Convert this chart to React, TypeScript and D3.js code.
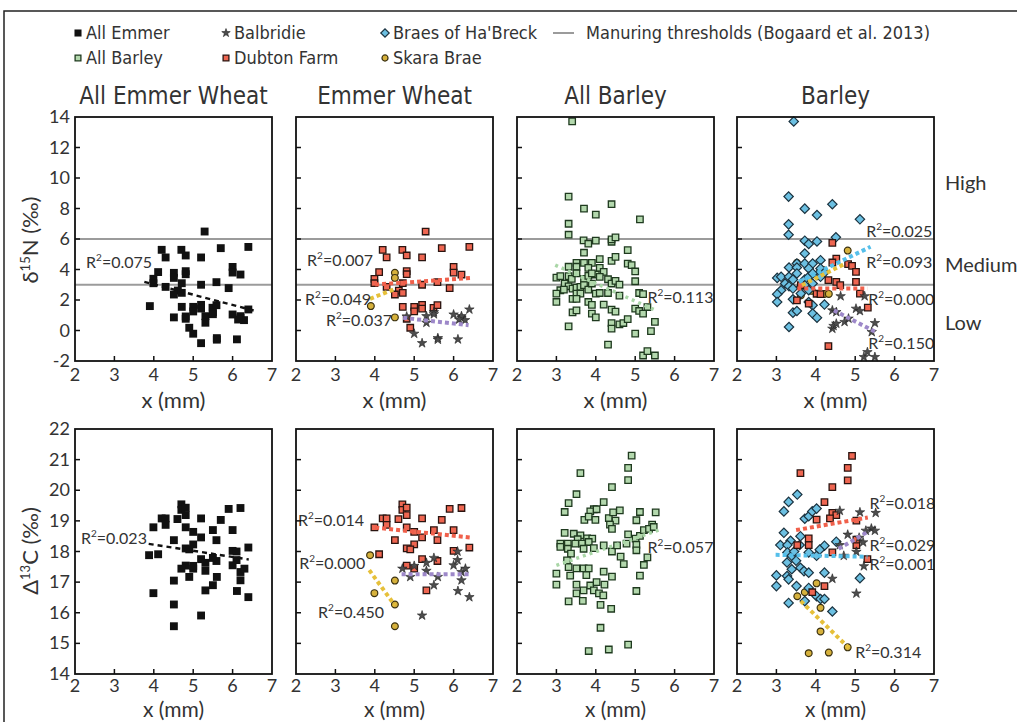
import React from 'react'
import * as d3 from 'd3'

// axis ticks and thresholds
const xTicks = [2, 3, 4, 5, 6, 7]
const nTicks = [-2, 0, 2, 4, 6, 8, 10, 12, 14]
const cTicks = [14, 15, 16, 17, 18, 19, 20, 21, 22]
const thresholds = [6, 3]
const panelTitles = ['All Emmer Wheat', 'Emmer Wheat', 'All Barley', 'Barley']
const levelNames = ['High', 'Medium', 'Low']
const levelValues = [9.7, 4.3, 0.5]

// ---- emmer, d15N ----
const emmerDubtonN = [
  [5.29, 6.49], [4.2, 5.29], [4.3, 4.79], [4.7, 5.29], [4.81, 4.92], [5.2, 4.79], [5.7, 5.4], [6.4, 5.48],
  [4.11, 3.83], [3.99, 3.39], [3.99, 3.1], [4.3, 2.86], [4.81, 3.89], [4.81, 3.69], [4.71, 3.1], [5.2, 3.0],
  [5.59, 3.17], [5.9, 2.78], [6.0, 4.17], [6.0, 3.8], [6.2, 3.67], [4.61, 2.62], [4.51, 2.36], [4.71, 2.47],
  [4.71, 1.55], [5.0, 1.55], [5.0, 1.25], [5.2, 1.68], [5.2, 1.44], [5.49, 1.49], [5.59, 1.66], [4.81, 0.77], [4.9, 0.18],
]
const emmerSkaraN = [[4.51, 3.78], [4.51, 3.45], [3.9, 1.6], [4.51, 0.86]]
const emmerBalbridieN = [
  [4.81, 0.92], [5.0, -0.21], [5.2, -0.83], [5.31, 0.94], [5.31, 0.51], [5.5, 1.2], [5.5, 1.07], [5.6, -0.5],
  [5.6, -0.6], [6.0, 1.05], [6.11, -0.58], [6.2, 0.83], [6.2, 0.94], [6.29, 0.68], [6.4, 1.38], [6.14, 0.72],
]
const allEmmerN = [...emmerDubtonN, ...emmerSkaraN, ...emmerBalbridieN]

// ---- emmer, D13C ----
const emmerDubtonC = [
  [4.7, 19.54], [4.7, 19.36], [4.81, 19.43], [4.81, 19.19], [4.2, 19.08], [4.3, 19.08], [4.3, 18.87], [4.6, 19.06],
  [3.99, 18.79], [4.81, 18.79], [5.2, 19.08], [5.9, 19.39], [6.2, 19.42], [5.7, 19.03], [5.5, 18.7], [5.0, 18.64],
  [5.2, 18.46], [6.0, 18.7], [4.51, 18.37], [5.59, 18.37], [5.0, 18.23], [4.81, 18.1], [4.9, 18.07], [4.11, 17.91],
  [5.2, 17.75], [5.59, 17.69], [6.0, 18.02], [6.4, 18.13], [4.81, 17.54], [5.0, 17.44], [5.31, 16.73],
]
const emmerSkaraC = [[3.88, 17.88], [3.99, 16.64], [4.51, 17.05], [4.51, 16.27], [4.51, 15.56]]
const emmerBalbridieC = [
  [4.7, 17.44], [4.9, 17.17], [5.0, 17.53], [5.31, 17.63], [5.31, 17.37], [5.5, 17.79], [5.5, 16.9], [5.6, 17.17],
  [6.0, 17.55], [6.1, 17.72], [6.11, 16.71], [6.2, 17.06], [6.2, 17.33], [6.3, 17.44], [6.4, 16.51], [5.2, 15.91], [6.1, 18.0],
]
const allEmmerC = [...emmerDubtonC, ...emmerSkaraC, ...emmerBalbridieC]

// ---- all barley ----
const allBarleyN = [
  [3.4, 13.71], [3.31, 8.78], [3.7, 7.99], [4.4, 8.28], [4.0, 7.6], [5.12, 7.29], [3.31, 7.0], [3.31, 6.28],
  [3.69, 5.91], [3.81, 5.69], [4.0, 5.89], [4.4, 5.82], [4.4, 5.97], [4.5, 6.11], [3.7, 5.1], [4.81, 5.27],
  [3.51, 4.44], [3.7, 4.44], [3.9, 4.44], [4.1, 4.68], [4.4, 4.57], [4.5, 4.83], [4.81, 4.39], [4.91, 4.29],
  [5.0, 3.87], [5.0, 3.23], [3.31, 4.18], [3.51, 4.18], [3.81, 4.11], [4.1, 4.11], [4.2, 3.85], [4.0, 3.67],
  [3.0, 3.47], [3.1, 3.56], [3.31, 3.56], [3.39, 3.39], [3.51, 3.74], [3.7, 3.39], [3.81, 3.58], [3.9, 3.74],
  [4.1, 3.52], [4.31, 3.36], [4.4, 3.08], [4.5, 3.25], [4.6, 3.01], [3.21, 3.08], [3.31, 2.9], [3.1, 2.64],
  [3.19, 2.68], [3.41, 2.75], [3.51, 2.82], [3.61, 2.86], [3.7, 2.97], [3.81, 2.68], [3.9, 3.08], [4.0, 2.42],
  [4.1, 2.46], [4.31, 2.46], [4.6, 2.29], [3.0, 2.42], [3.0, 1.87], [3.51, 2.42], [3.61, 2.42], [3.41, 2.07],
  [3.51, 2.07], [3.81, 1.87], [3.9, 1.68], [4.2, 1.7], [5.1, 2.46], [5.2, 2.38], [5.0, 1.43], [5.1, 1.28],
  [5.2, 1.11], [5.31, 1.54], [3.41, 1.19], [3.51, 1.32], [3.9, 1.11], [4.0, 0.86], [4.4, 1.37], [4.5, 1.24],
  [4.4, 0.49], [4.4, 0.12], [4.6, 0.4], [4.7, 0.49], [4.81, 0.75], [5.5, 0.56], [3.31, 0.27], [5.0, -0.21],
  [5.4, -0.04], [4.31, -0.93], [5.2, -1.64], [5.31, -1.35], [5.5, -1.64],
]
const allBarleyC = [
  [4.91, 21.13], [4.82, 20.73], [4.82, 20.33], [3.61, 20.56], [4.41, 20.1], [3.51, 19.87], [3.31, 19.58], [3.21, 19.29],
  [4.2, 19.61], [3.95, 19.38], [3.86, 19.31], [4.02, 19.38], [3.71, 19.03], [3.82, 19.14], [3.99, 19.03], [4.33, 19.09],
  [4.44, 19.28], [4.61, 19.34], [4.5, 19.01], [4.36, 18.88], [4.41, 18.74], [5.12, 19.29], [5.52, 19.28], [5.03, 19.02],
  [5.43, 18.88], [3.21, 18.61], [3.44, 18.58], [3.61, 18.53], [3.78, 18.43], [3.91, 18.42], [3.54, 18.4], [3.1, 18.26],
  [3.1, 18.15], [3.29, 18.26], [3.29, 18.09], [3.48, 18.26], [3.65, 18.26], [3.82, 18.31], [3.69, 18.09], [3.95, 18.11],
  [4.2, 18.2], [4.41, 18.0], [4.54, 18.2], [4.82, 18.56], [5.01, 18.42], [5.12, 18.51], [5.22, 18.7], [5.35, 18.74],
  [5.47, 18.8], [5.03, 18.22], [5.03, 18.04], [4.78, 18.26], [4.63, 17.83], [4.71, 17.59], [5.31, 17.81], [5.22, 17.56],
  [5.12, 17.21], [5.03, 16.71], [3.37, 17.93], [3.27, 17.71], [3.0, 17.28], [3.0, 16.92], [3.31, 17.49], [3.35, 17.21],
  [3.51, 17.45], [3.69, 17.45], [3.82, 17.45], [3.76, 17.23], [4.2, 17.34], [4.41, 17.18], [3.51, 16.92], [3.51, 16.63],
  [3.69, 16.73], [3.86, 16.89], [4.02, 17.0], [4.22, 16.92], [3.95, 16.73], [4.08, 16.63], [4.19, 16.57], [3.31, 16.37],
  [3.67, 16.39], [4.12, 16.26], [4.39, 16.13], [4.12, 15.51], [3.82, 14.75], [4.33, 14.8], [4.82, 14.96],
]

// ---- barley by site, d15N ----
const braesN = [
  [3.44, 13.71], [3.31, 8.78], [3.72, 7.99], [4.42, 8.28], [4.03, 7.57], [5.12, 7.29], [3.31, 6.96], [3.31, 6.28],
  [3.72, 5.89], [3.82, 5.67], [4.03, 5.84], [4.51, 6.11], [3.72, 5.05], [3.52, 4.39], [3.72, 4.39], [3.92, 4.39],
  [4.12, 4.61], [3.32, 4.13], [3.52, 4.13], [3.82, 4.07], [4.12, 4.07], [4.22, 3.8], [4.03, 3.63], [3.02, 3.45],
  [3.12, 3.52], [3.32, 3.52], [3.42, 3.34], [3.52, 3.74], [3.72, 3.34], [3.82, 3.52], [3.92, 3.74], [4.12, 3.52],
  [3.22, 3.08], [3.32, 2.9], [3.12, 2.64], [3.42, 2.75], [3.62, 2.86], [3.72, 2.97], [3.82, 2.64], [3.92, 3.08],
  [3.02, 2.38], [3.02, 1.87], [3.62, 2.42], [3.42, 2.05], [3.82, 1.87], [3.92, 1.65], [4.22, 1.7], [3.42, 1.17],
  [3.52, 1.28], [3.92, 1.11], [4.03, 0.84], [3.32, 0.23],
]
const dubtonBarleyN = [
  [4.42, 5.75], [4.52, 4.72], [4.42, 4.46], [4.82, 4.35], [4.92, 4.24], [5.02, 3.85], [5.02, 3.19], [4.32, 3.3],
  [4.52, 3.19], [4.62, 2.97], [3.62, 2.97], [4.02, 2.41], [4.12, 2.38], [3.52, 1.98], [3.82, 1.76], [5.12, 2.42],
  [5.32, 1.5], [4.32, -1.02],
]
const skaraBarleyN = [[4.81, 5.24], [3.52, 4.44], [4.2, 3.95], [4.22, 2.4], [4.33, 2.4], [3.62, 2.3], [3.9, 2.6]]
const balbridieBarleyN = [
  [4.63, 2.25], [5.24, 2.25], [5.02, 1.43], [5.12, 1.28], [4.42, 1.32], [4.52, 1.21], [4.42, 0.12], [4.45, 0.3],
  [4.52, 0.45], [4.73, 0.56], [4.83, 0.78], [5.5, 0.49], [5.42, -0.1], [5.22, -1.74], [5.31, -1.42], [5.5, -1.74],
]

// ---- barley by site, D13C ----
const braesC = [
  [3.53, 19.86], [3.31, 19.62], [3.19, 19.31], [3.72, 19.07], [3.82, 19.15], [3.91, 19.31], [4.02, 19.4], [3.19, 18.61],
  [3.36, 18.35], [3.61, 18.5], [3.1, 18.21], [3.28, 18.21], [3.59, 18.21], [3.28, 17.97], [3.39, 17.86], [3.82, 17.97],
  [4.02, 17.86], [4.22, 18.19], [4.1, 18.06], [4.52, 18.32], [3.27, 17.64], [3.39, 17.42], [3.61, 17.47], [3.7, 17.36],
  [3.82, 17.31], [4.22, 17.31], [3.0, 17.22], [3.27, 17.2], [3.31, 17.09], [3.0, 16.87], [3.51, 16.87], [3.82, 16.81],
  [4.02, 16.54], [4.12, 16.45], [3.31, 16.32], [3.72, 16.38], [4.22, 16.45], [4.42, 16.04], [5.12, 17.13], [3.45, 18.0],
  [3.5, 17.7],
]
const dubtonBarleyC = [
  [4.92, 21.12], [4.81, 20.73], [4.81, 20.32], [3.61, 20.56], [4.42, 20.1], [4.22, 19.61], [4.42, 19.26], [4.52, 19.19],
  [4.36, 19.08], [4.02, 19.04], [5.03, 19.01], [3.53, 18.21], [3.82, 18.43], [3.82, 18.21], [4.42, 17.97], [5.03, 18.21],
  [5.03, 18.39], [5.31, 17.75], [4.22, 16.87], [3.91, 16.67],
]
const balbridieBarleyC = [
  [4.61, 19.33], [5.12, 19.28], [5.52, 19.26], [5.41, 18.75], [5.27, 18.68], [5.5, 18.68], [4.81, 18.55], [4.61, 18.21],
  [5.03, 17.99], [4.71, 17.86], [5.22, 17.52], [4.42, 17.11], [5.03, 16.63], [5.1, 18.45], [5.2, 18.3],
]
const skaraBarleyC = [[4.02, 16.96], [3.72, 16.67], [3.53, 16.54], [4.12, 16.16], [4.12, 15.39], [3.82, 14.68], [4.33, 14.7], [4.81, 14.87]]

// trend lines [x0, y0, x1, y1]
const trendAllEmmerN = [3.76, 3.19, 6.58, 1.28]
const trendAllEmmerC = [3.87, 18.25, 6.41, 17.74]
const trendEmmerDubtonN = [4.01, 3.01, 6.45, 3.45]
const trendEmmerSkaraN = [3.88, 2.08, 4.48, 2.69]
const trendEmmerBalbridieN = [4.72, 0.83, 6.38, 0.35]
const trendEmmerDubtonC = [4.01, 18.78, 6.41, 18.46]
const trendEmmerBalbridieC = [4.68, 17.26, 6.41, 17.26]
const trendEmmerSkaraC = [3.86, 17.39, 4.51, 16.24]
const trendAllBarleyN = [2.97, 4.29, 5.52, 1.32]
const trendAllBarleyC = [3.0, 17.55, 5.6, 18.7]
const trendBraesN = [3.57, 3.19, 5.39, 5.49]
const trendSkaraBarleyN = [3.65, 2.97, 4.75, 4.39]
const trendDubtonBarleyN = [3.53, 2.75, 5.31, 2.75]
const trendBalbridieBarleyN = [4.46, 1.32, 5.52, -0.1]
const trendDubtonBarleyC = [3.5, 18.7, 5.32, 19.11]
const trendBalbridieBarleyC = [4.58, 18.09, 5.34, 18.66]
const trendBraesC = [2.98, 17.89, 5.31, 17.83]
const trendSkaraBarleyC = [3.62, 16.38, 4.84, 14.85]

const MARKS: Record<string, any> = {
  black: { type: d3.symbolSquare, size: 62, fill: '#111', stroke: 'none', sw: 0, rot: 0 },
  green: { type: d3.symbolSquare, size: 42, fill: '#b3d8ad', stroke: '#1f3a1f', sw: 1.3, rot: 0 },
  red: { type: d3.symbolSquare, size: 42, fill: '#ef6651', stroke: '#2a1410', sw: 1.3, rot: 0 },
  blue: { type: d3.symbolSquare, size: 44, fill: '#6cc0e2', stroke: '#1b3340', sw: 1.2, rot: 45 },
  yellow: { type: d3.symbolCircle, size: 36, fill: '#d6b13c', stroke: '#3b3110', sw: 1.2, rot: 0 },
  star: { type: d3.symbolStar, size: 28, fill: '#4d4d4d', stroke: '#222', sw: 0.6, rot: 0 },
}

const TREND = {
  black: { color: '#111', w: 2.4, dash: '5 4' },
  red: { color: '#f0604b', w: 4, dash: '4 3' },
  yellow: { color: '#e6c03a', w: 4, dash: '4 3' },
  purple: { color: '#9d88c9', w: 4, dash: '4 3' },
  blue: { color: '#55bfea', w: 4, dash: '4 3' },
  green: { color: '#a9d6a6', w: 3.5, dash: '3 4' },
}

const topPanels = [
  {
    layers: [{ pts: allEmmerN, mark: 'black' }],
    trends: [{ t: trendAllEmmerN, s: 'black' }],
    labels: [{ r: '0.075', x: 2.28, y: 4.49 }],
  },
  {
    layers: [{ pts: emmerDubtonN, mark: 'red' }, { pts: emmerSkaraN, mark: 'yellow' }, { pts: emmerBalbridieN, mark: 'star' }],
    trends: [{ t: trendEmmerDubtonN, s: 'red' }, { t: trendEmmerSkaraN, s: 'yellow' }, { t: trendEmmerBalbridieN, s: 'purple' }],
    labels: [{ r: '0.007', x: 2.28, y: 4.62 }, { r: '0.049', x: 2.23, y: 2.07 }, { r: '0.037', x: 2.76, y: 0.69 }],
  },
  {
    layers: [{ pts: allBarleyN, mark: 'green' }],
    trends: [{ t: trendAllBarleyN, s: 'green' }],
    labels: [{ r: '0.113', x: 5.31, y: 2.2 }],
  },
  {
    layers: [{ pts: skaraBarleyN, mark: 'yellow' }, { pts: braesN, mark: 'blue' }, { pts: dubtonBarleyN, mark: 'red' }, { pts: balbridieBarleyN, mark: 'star' }],
    trends: [{ t: trendBraesN, s: 'blue' }, { t: trendSkaraBarleyN, s: 'yellow' }, { t: trendDubtonBarleyN, s: 'red' }, { t: trendBalbridieBarleyN, s: 'purple' }],
    labels: [{ r: '0.025', x: 5.28, y: 6.52 }, { r: '0.093', x: 5.28, y: 4.49 }, { r: '0.000', x: 5.33, y: 2.07 }, { r: '0.150', x: 5.33, y: -0.82 }],
  },
]

const bottomPanels = [
  {
    layers: [{ pts: allEmmerC, mark: 'black' }],
    trends: [{ t: trendAllEmmerC, s: 'black' }],
    labels: [{ r: '0.023', x: 2.15, y: 18.44 }],
  },
  {
    layers: [{ pts: emmerDubtonC, mark: 'red' }, { pts: emmerSkaraC, mark: 'yellow' }, { pts: emmerBalbridieC, mark: 'star' }],
    trends: [{ t: trendEmmerDubtonC, s: 'red' }, { t: trendEmmerBalbridieC, s: 'purple' }, { t: trendEmmerSkaraC, s: 'yellow' }],
    labels: [{ r: '0.014', x: 2.05, y: 19.03 }, { r: '0.000', x: 2.08, y: 17.62 }, { r: '0.450', x: 2.56, y: 16.02 }],
  },
  {
    layers: [{ pts: allBarleyC, mark: 'green' }],
    trends: [{ t: trendAllBarleyC, s: 'green' }],
    labels: [{ r: '0.057', x: 5.31, y: 18.14 }],
  },
  {
    layers: [{ pts: skaraBarleyC, mark: 'yellow' }, { pts: braesC, mark: 'blue' }, { pts: dubtonBarleyC, mark: 'red' }, { pts: balbridieBarleyC, mark: 'star' }],
    trends: [{ t: trendDubtonBarleyC, s: 'red' }, { t: trendBalbridieBarleyC, s: 'purple' }, { t: trendBraesC, s: 'blue' }, { t: trendSkaraBarleyC, s: 'yellow' }],
    labels: [{ r: '0.018', x: 5.36, y: 19.6 }, { r: '0.029', x: 5.36, y: 18.2 }, { r: '0.001', x: 5.36, y: 17.6 }, { r: '0.314', x: 5.0, y: 14.72 }],
  },
]

const legendItems = [
  [{ mark: 'black', text: 'All Emmer' }, { mark: 'green', text: 'All Barley' }],
  [{ mark: 'star', text: 'Balbridie' }, { mark: 'red', text: 'Dubton Farm' }],
  [{ mark: 'blue', text: "Braes of Ha'Breck" }, { mark: 'yellow', text: 'Skara Brae' }],
]

const W = 1017
const H = 722
const colLeft = [75, 296, 517, 737]
const colW = 197
const FONT = 'Lato, "Open Sans", sans-serif'
const NARROW = '"Liberation Sans Narrow", "DejaVu Sans Condensed", "Noto Sans", sans-serif'
const INK = '#333'

const symPath = (k: string, scale = 1) => {
  const m = MARKS[k]
  return d3.symbol().type(m.type).size(m.size * scale)() as string
}

const Marker = ({ k, x, y, scale = 1 }: { k: string; x: number; y: number; scale?: number }) => {
  const m = MARKS[k]
  return (
    <path
      d={symPath(k, scale)}
      transform={`translate(${x},${y}) rotate(${m.rot})`}
      fill={m.fill}
      stroke={m.stroke}
      strokeWidth={m.sw}
    />
  )
}

const R2 = ({ x, y, r }: { x: number; y: number; r: string }) => (
  <text x={x} y={y} dy={6} fontFamily={FONT} fontSize={16} fill={INK}>
    R<tspan dy={-7} fontSize={10}>2</tspan>
    <tspan dy={7}>={r}</tspan>
  </text>
)

const Panel = ({ p, left, top, bottom, domain, ticks, tickStep, showY, thresh, tickGap, titleGap, titleSize }: any) => {
  const x = d3.scaleLinear().domain([2, 7]).range([left, left + colW])
  const y = d3.scaleLinear().domain(domain).range([bottom, top])
  const innerY = ticks.filter((t: number) => t !== domain[0] && t !== domain[1] && (t - domain[0]) % tickStep === 0)
  return (
    <g>
      {thresh.map((t: number) => (
        <line key={t} x1={left} x2={left + colW} y1={y(t)} y2={y(t)} stroke="#9b9b9b" strokeWidth={1.8} />
      ))}
      {p.layers.map((l: any, i: number) => (
        <g key={i}>
          {l.pts.map((d: number[], j: number) => (
            <Marker key={j} k={l.mark} x={x(d[0])} y={y(d[1])} />
          ))}
        </g>
      ))}
      {p.trends.map((tr: any, i: number) => {
        const s = (TREND as any)[tr.s]
        return (
          <line
            key={i}
            x1={x(tr.t[0])}
            y1={y(tr.t[1])}
            x2={x(tr.t[2])}
            y2={y(tr.t[3])}
            stroke={s.color}
            strokeWidth={s.w}
            strokeDasharray={s.dash}
          />
        )
      })}
      {p.labels.map((lb: any, i: number) => (
        <R2 key={i} x={x(lb.x)} y={y(lb.y)} r={lb.r} />
      ))}
      <rect x={left} y={top} width={colW} height={bottom - top} fill="none" stroke="#111" strokeWidth={1.8} />
      {innerY.map((t: number) => (
        <line key={t} x1={left} x2={left + 5} y1={y(t)} y2={y(t)} stroke="#111" strokeWidth={1.5} />
      ))}
      {xTicks.slice(1, -1).map((t) => (
        <line key={t} x1={x(t)} x2={x(t)} y1={bottom} y2={bottom - 5} stroke="#111" strokeWidth={1.5} />
      ))}
      {xTicks.map((t) => (
        <text key={t} x={x(t)} y={bottom + tickGap} textAnchor="middle" fontFamily={FONT} fontSize={18} fill={INK}>
          {t}
        </text>
      ))}
      {showY &&
        ticks.map((t: number) => (
          <text key={t} x={left - 5} y={y(t)} dy={6} textAnchor="end" fontFamily={FONT} fontSize={18} fill={INK}>
            {t}
          </text>
        ))}
      <text x={left + colW / 2} y={bottom + titleGap} textAnchor="middle" fontFamily={FONT} fontSize={titleSize} fill={INK}>
        x (mm)
      </text>
    </g>
  )
}

export default function App() {
  const topRow = { top: 117, bottom: 361, domain: [-2, 14], tickGap: 20, titleGap: 47, titleSize: 22 }
  const botRow = { top: 429, bottom: 674, domain: [14, 22], tickGap: 18, titleGap: 43, titleSize: 21 }
  const yN = d3.scaleLinear().domain(topRow.domain).range([topRow.bottom, topRow.top])
  const legendX = [78, 226, 385]
  const legendY = [33, 58]
  return (
    <svg width={W} height={H} style={{ position: 'absolute', left: 0, top: 0, background: '#fff' }}>
      <rect x={4} y={11} width={W + 20} height={H + 20} fill="none" stroke="#222" strokeWidth={1.5} />
      {legendItems.map((col, ci) =>
        col.map((it, ri) => (
          <g key={`${ci}-${ri}`}>
            <Marker k={it.mark} x={legendX[ci]} y={legendY[ri]} scale={0.8} />
            <text x={legendX[ci] + 8} y={legendY[ri] + 6} fontFamily={NARROW} fontSize={18} fill={INK}>
              {it.text}
            </text>
          </g>
        ))
      )}
      <line x1={553} x2={574} y1={33} y2={33} stroke="#9b9b9b" strokeWidth={2} />
      <text x={586} y={39} fontFamily={NARROW} fontSize={18} fill={INK}>
        Manuring thresholds (Bogaard et al. 2013)
      </text>
      {panelTitles.map((t, i) => (
        <text key={t} x={colLeft[i] + colW / 2} y={104} textAnchor="middle" fontFamily={NARROW} fontSize={24} fill={INK}>
          {t}
        </text>
      ))}
      {topPanels.map((p, i) => (
        <Panel key={i} p={p} left={colLeft[i]} {...topRow} ticks={nTicks} tickStep={2} showY={i === 0} thresh={thresholds} />
      ))}
      {bottomPanels.map((p, i) => (
        <Panel key={i} p={p} left={colLeft[i]} {...botRow} ticks={cTicks} tickStep={1} showY={i === 0} thresh={[]} />
      ))}
      {levelNames.map((n, i) => (
        <text key={n} x={945} y={yN(levelValues[i])} dy={7} fontFamily={FONT} fontSize={20} fill={INK}>
          {n}
        </text>
      ))}
      <text transform="translate(38,240) rotate(-90)" textAnchor="middle" fontFamily={FONT} fontSize={22} fill={INK}>
        δ<tspan dy={-8} fontSize={13}>15</tspan>
        <tspan dy={8}>N (‰)</tspan>
      </text>
      <text transform="translate(38,551) rotate(-90)" textAnchor="middle" fontFamily={FONT} fontSize={22} fill={INK}>
        Δ<tspan dy={-8} fontSize={13}>13</tspan>
        <tspan dy={8}>C (‰)</tspan>
      </text>
    </svg>
  )
}
